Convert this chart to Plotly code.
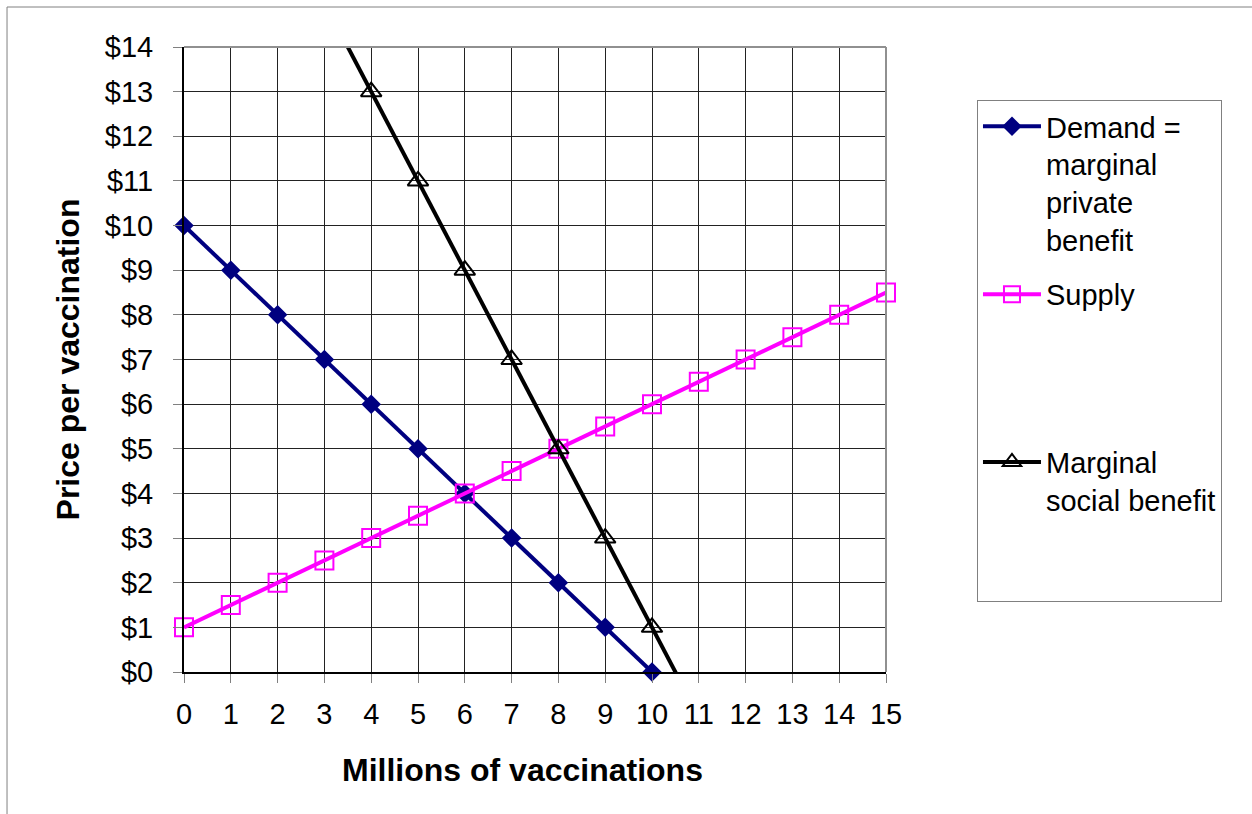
import plotly.graph_objects as go

quantity = list(range(0, 16))
price_ticks = list(range(0, 15))
price_labels = ["$" + str(v) for v in price_ticks]
demand_x = list(range(0, 11))
demand_y = [10, 9, 8, 7, 6, 5, 4, 3, 2, 1, 0]
supply_x = list(range(0, 16))
supply_y = [1, 1.5, 2, 2.5, 3, 3.5, 4, 4.5, 5, 5.5, 6, 6.5, 7, 7.5, 8, 8.5]
msb_x = [3, 4, 5, 6, 7, 8, 9, 10, 11]
msb_y = [15, 13, 11, 9, 7, 5, 3, 1, -1]

FONT = "Liberation Sans, Arial, sans-serif"

fig = go.Figure()
fig.add_trace(go.Scatter(
    x=demand_x, y=demand_y, mode="lines+markers",
    name="Demand =<br>marginal<br>private<br>benefit",
    line=dict(color="#000080", width=4),
    marker=dict(symbol="diamond", size=15, color="#000080"),
    cliponaxis=False, legendgroup="a"))
fig.add_trace(go.Scatter(
    x=supply_x, y=supply_y, mode="lines+markers",
    name="Supply<br> <br> <br> ",
    line=dict(color="#FF00FF", width=4),
    marker=dict(symbol="square-open", size=18, color="#FF00FF", line=dict(width=2)),
    cliponaxis=False, legendgroup="b"))
fig.add_trace(go.Scatter(
    x=msb_x, y=msb_y, mode="lines+markers",
    name="Marginal<br>social benefit<br> <br> ",
    line=dict(color="#000000", width=4),
    marker=dict(symbol="triangle-up-open", size=18, color="#000000", line=dict(width=2)),
    cliponaxis=True, legendgroup="c"))

fig.update_layout(
    width=1252, height=814,
    margin=dict(l=184, r=366, t=47, b=142),
    paper_bgcolor="white", plot_bgcolor="white",
    font=dict(family=FONT, size=29, color="black"),
    showlegend=True,
    legend=dict(
        x=1.1296, y=0.9152, xanchor="left", yanchor="top",
        bordercolor="#808080", borderwidth=1, bgcolor="white",
        font=dict(family=FONT, size=29, color="black"),
        valign="top", tracegroupgap=14, itemwidth=58,
    ),
    xaxis=dict(
        range=[0, 15], tickmode="array", tickvals=quantity,
        showgrid=True, gridcolor="#222222", gridwidth=1,
        showline=True, linecolor="black", linewidth=2,
        ticks="outside", ticklen=9, tickcolor="#808080",
        ticklabelstandoff=6,
        zeroline=False, mirror=False,
        tickfont=dict(family=FONT, size=29),
    ),
    yaxis=dict(
        range=[0, 14], tickmode="array", tickvals=price_ticks, ticktext=price_labels,
        showgrid=True, gridcolor="#222222", gridwidth=1,
        showline=True, linecolor="black", linewidth=2,
        ticks="outside", ticklen=9, tickcolor="#808080",
        ticklabelstandoff=14,
        zeroline=False,
        tickfont=dict(family=FONT, size=29),
        title=dict(text="<b>Price per vaccination</b>", font=dict(family=FONT, size=32), standoff=16),
    ),
    annotations=[
        dict(text="<b>Millions of vaccinations</b>", xref="paper", yref="paper",
             x=0.4815, y=-0.1568, xanchor="center", yanchor="middle", showarrow=False,
             font=dict(family=FONT, size=32, color="black")),
    ],
    shapes=[
        dict(type="line", xref="paper", yref="paper", x0=1, x1=1, y0=0, y1=1,
             line=dict(color="#909090", width=2)),
        dict(type="line", xref="paper", yref="paper", x0=0, x1=1, y0=1, y1=1,
             line=dict(color="#909090", width=2)),
        dict(type="rect", xref="paper", yref="paper", x0=-0.2521, x1=1.6, y0=-0.5, y1=1.064,
             line=dict(color="#808080", width=1), layer="below"),
    ],
)

fig.write_html("out.html")
